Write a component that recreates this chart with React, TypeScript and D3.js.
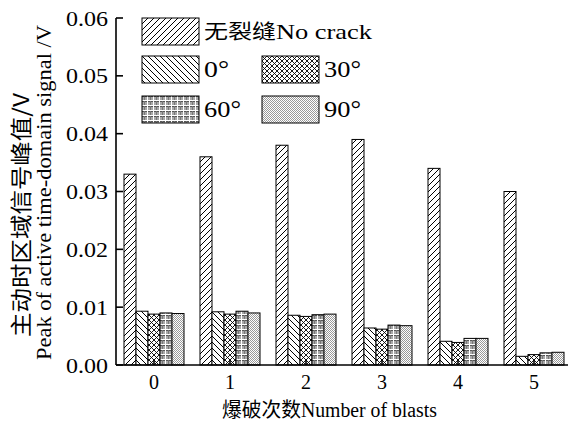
import React from 'react';
import * as d3 from 'd3';

const categories = ['0', '1', '2', '3', '4', '5'];
const seriesKeys = ['none', 'd0', 'd30', 'd60', 'd90'];
const seriesLabelsCn = ['无裂缝', '', '', '', ''];
const seriesLabelsEn = ['No crack', '0°', '30°', '60°', '90°'];
const noCrack = [0.033, 0.036, 0.038, 0.039, 0.034, 0.030];
const deg0 = [0.0093, 0.0092, 0.0086, 0.0064, 0.0041, 0.0015];
const deg30 = [0.0088, 0.0088, 0.0084, 0.0062, 0.0039, 0.0018];
const deg60 = [0.0090, 0.0093, 0.0087, 0.0069, 0.0046, 0.0021];
const deg90 = [0.0089, 0.0090, 0.0088, 0.0068, 0.0046, 0.0022];
const yTicks = [0, 0.01, 0.02, 0.03, 0.04, 0.05, 0.06];
const yLabelCn = '主动时区域信号峰值/V';
const yLabelEn = 'Peak of active time-domain signal /V';
const xLabelCn = '爆破次数';
const xLabelEn = 'Number of blasts';

const seriesValues = [noCrack, deg0, deg30, deg60, deg90];

const W = 568;
const H = 423;
const left = 116;
const top = 18;
const bottom = 365;
const serif = '"Liberation Serif", "Times New Roman", serif';
const cjk = '"Noto Sans CJK SC", serif';

export default function App() {
  const x = d3.scaleBand<string>().domain(categories).range([left, left + 76 * 6]).padding(0);
  const groupW = 60;
  const inner = d3.scaleBand<string>().domain(seriesKeys).range([0, groupW]).padding(0);
  const y = d3.scaleLinear().domain([0, 0.06]).range([bottom, top]);

  const legendPos = [
    { x: 142, y: 18, tl: 168 },
    { x: 142, y: 56, tl: 25 },
    { x: 262, y: 56, tl: 37 },
    { x: 142, y: 96, tl: 37 },
    { x: 262, y: 96, tl: 37 },
  ];

  return (
    <svg width={W} height={H} style={{ position: 'absolute', left: 0, top: 0, background: '#fff' }}>
      <defs>
        <pattern id="p-none" patternUnits="userSpaceOnUse" width={6} height={6}>
          <rect width={6} height={6} fill="#fff" />
          <path d="M0,6 L6,0 M-1.5,1.5 L1.5,-1.5 M4.5,7.5 L7.5,4.5" stroke="#000" strokeWidth={1} />
        </pattern>
        <pattern id="p-d0" patternUnits="userSpaceOnUse" width={6} height={6}>
          <rect width={6} height={6} fill="#fff" />
          <path d="M0,0 L6,6 M-1.5,4.5 L1.5,7.5 M4.5,-1.5 L7.5,1.5" stroke="#000" strokeWidth={1} />
        </pattern>
        <pattern id="p-d30" patternUnits="userSpaceOnUse" width={5} height={5}>
          <rect width={5} height={5} fill="#fff" />
          <path d="M0,0 L5,5 M0,5 L5,0 M-1,4 L1,6 M4,-1 L6,1 M-1,1 L1,-1 M4,6 L6,4" stroke="#000" strokeWidth={0.9} />
        </pattern>
        <pattern id="p-d60" patternUnits="userSpaceOnUse" width={6} height={5}>
          <rect width={6} height={5} fill="#fff" />
          <rect width={6} height={4} fill="#a8a8a8" />
          <path d="M0,0.5 L6,0.5" stroke="#555" strokeWidth={1} />
          <path d="M5.5,0 L5.5,5" stroke="#fff" strokeWidth={1} />
          <path d="M2.5,0 L2.5,4" stroke="#777" strokeWidth={1} />
        </pattern>
        <pattern id="p-d90" patternUnits="userSpaceOnUse" width={2} height={2}>
          <rect width={2} height={2} fill="#fff" />
          <rect x={0} y={0} width={1} height={1} fill="#999" />
          <rect x={1} y={1} width={1} height={1} fill="#999" />
        </pattern>
      </defs>

      {/* bars */}
      {categories.map((c, ci) => (
        <g key={c} transform={`translate(${(x(c) as number) + (x.bandwidth() - groupW) / 2},0)`}>
          {seriesKeys.map((k, si) => {
            const v = seriesValues[si][ci];
            return (
              <rect
                key={k}
                x={inner(k) as number}
                y={y(v)}
                width={inner.bandwidth()}
                height={bottom - y(v)}
                fill={`url(#p-${k})`}
                stroke="#000"
                strokeWidth={1}
              />
            );
          })}
        </g>
      ))}

      {/* axes */}
      <line x1={left} x2={W} y1={bottom} y2={bottom} stroke="#000" strokeWidth={1.6} />
      <line x1={left} x2={left} y1={top} y2={bottom} stroke="#000" strokeWidth={1.6} />
      {yTicks.map((t) => (
        <g key={t}>
          <line x1={left} x2={left + 7} y1={y(t)} y2={y(t)} stroke="#000" strokeWidth={1.6} />
          <text
            x={108}
            y={y(t) + 7.5}
            textAnchor="end"
            fontFamily={serif}
            fontSize={22}
            textLength={42}
            lengthAdjust="spacingAndGlyphs"
          >
            {t.toFixed(2)}
          </text>
        </g>
      ))}
      {categories.map((c) => {
        const cx = (x(c) as number) + x.bandwidth() / 2;
        return (
          <g key={c}>
            <line x1={cx} x2={cx} y1={bottom} y2={bottom - 6} stroke="#000" strokeWidth={1.6} />
            <text x={cx} y={bottom + 24} textAnchor="middle" fontFamily={serif} fontSize={20}>
              {c}
            </text>
          </g>
        );
      })}

      {/* axis titles */}
      <text
        transform={`translate(29,${337}) rotate(-90)`}
        fontFamily={cjk}
        fontSize={22}
        textLength={244}
        lengthAdjust="spacingAndGlyphs"
      >
        {yLabelCn}
      </text>
      <text
        transform={`translate(51,${360}) rotate(-90)`}
        fontFamily={serif}
        fontSize={21}
        textLength={335}
        lengthAdjust="spacingAndGlyphs"
      >
        {yLabelEn}
      </text>
      <text x={222} y={417} fontSize={20} textLength={215} lengthAdjust="spacingAndGlyphs">
        <tspan fontFamily={cjk}>{xLabelCn}</tspan>
        <tspan fontFamily={serif}>{xLabelEn}</tspan>
      </text>

      {/* legend */}
      {seriesKeys.map((k, i) => (
        <g key={k} transform={`translate(${legendPos[i].x},${legendPos[i].y})`}>
          <rect width={57} height={27} fill={`url(#p-${k})`} stroke="#000" strokeWidth={1} />
          <text x={62} y={21} textLength={legendPos[i].tl} lengthAdjust="spacingAndGlyphs">
            {seriesLabelsCn[i] ? <tspan fontFamily={cjk} fontSize={20}>{seriesLabelsCn[i]}</tspan> : null}
            <tspan fontFamily={serif} fontSize={i === 0 ? 22 : 24}>{seriesLabelsEn[i]}</tspan>
          </text>
        </g>
      ))}
    </svg>
  );
}
